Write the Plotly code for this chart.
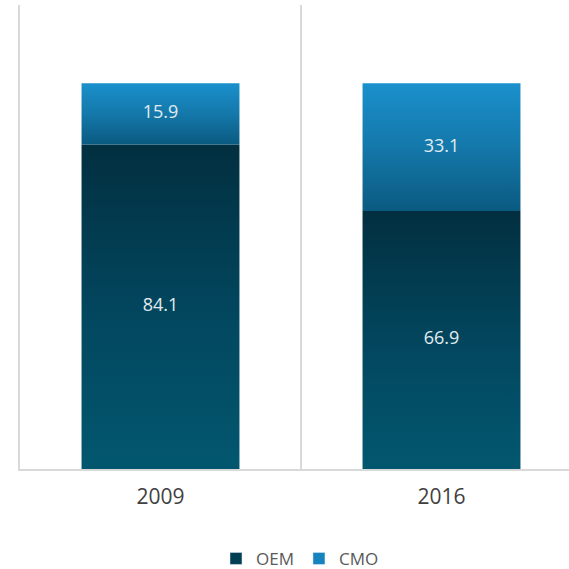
import plotly.graph_objects as go

years = ["2009", "2016"]
oem = [84.1, 66.9]
cmo = [15.9, 33.1]
series_names = ["OEM", "CMO"]

gradients = {
    "OEM": [[0, "#02576f"], [0.45, "#024860"], [1, "#022f40"]],
    "CMO": [[0, "#0a5a80"], [0.5, "#1478aa"], [1, "#1a90cc"]],
}
legend_colors = {"OEM": "#023f55", "CMO": "#1583bd"}

FONT = "Open Sans, Lato, sans-serif"
half_w = 0.281
fig = go.Figure()
base = [0.0 for _ in years]
label_x, label_y, label_t = [], [], []
for name, vals in zip(series_names, [oem, cmo]):
    for i, v in enumerate(vals):
        y0, y1 = base[i], base[i] + v
        fig.add_trace(go.Scatter(
            x=[i - half_w, i + half_w, i + half_w, i - half_w, i - half_w],
            y=[y0, y0, y1, y1, y0],
            mode="none", fill="toself",
            fillgradient=dict(type="vertical", colorscale=gradients[name]),
            name=name, legendgroup=name, showlegend=False,
            hoverinfo="skip",
        ))
        label_x.append(i)
        label_y.append((y0 + y1) / 2)
        label_t.append(f"{v:.1f}")
        base[i] = y1
    # legend-only entry (square symbol)
    fig.add_trace(go.Bar(
        x=[None], y=[None], name=name, legendgroup=name,
        marker=dict(color=legend_colors[name]), showlegend=True,
        hoverinfo="skip",
    ))

fig.add_trace(go.Scatter(
    x=label_x, y=label_y, text=label_t, mode="text",
    textfont=dict(family=FONT, size=18, color="#e2ebf0"),
    showlegend=False, hoverinfo="skip",
))

fig.update_layout(
    width=569, height=569,
    margin=dict(l=20, r=0, t=5, b=100, autoexpand=False),
    plot_bgcolor="white", paper_bgcolor="white",
    font=dict(family=FONT, color="#595959"),
    showlegend=True,
    legend=dict(orientation="h", x=0.51, xanchor="center", y=-0.155, yanchor="top",
                font=dict(size=17, color="#595959"), itemwidth=30,
                traceorder="normal"),
    xaxis=dict(
        range=[-0.5, -0.5 + 549 / 281],
        tickvals=[0, 1], ticktext=years,
        showgrid=False, zeroline=False,
        showline=True, linecolor="#d9d9d9", linewidth=2,
        tickfont=dict(size=21, color="#404040", family=FONT),
        ticks="", ticklabelstandoff=8,
        minor=dict(tickvals=[0.5, 1.5], showgrid=True, gridcolor="#d9d9d9", gridwidth=2),
        fixedrange=True,
    ),
    yaxis=dict(range=[0, 120.3], showgrid=False, zeroline=False, showticklabels=False,
               showline=True, linecolor="#d9d9d9", linewidth=2, fixedrange=True),
)

fig.write_html("out.html", config={"displayModeBar": False})
